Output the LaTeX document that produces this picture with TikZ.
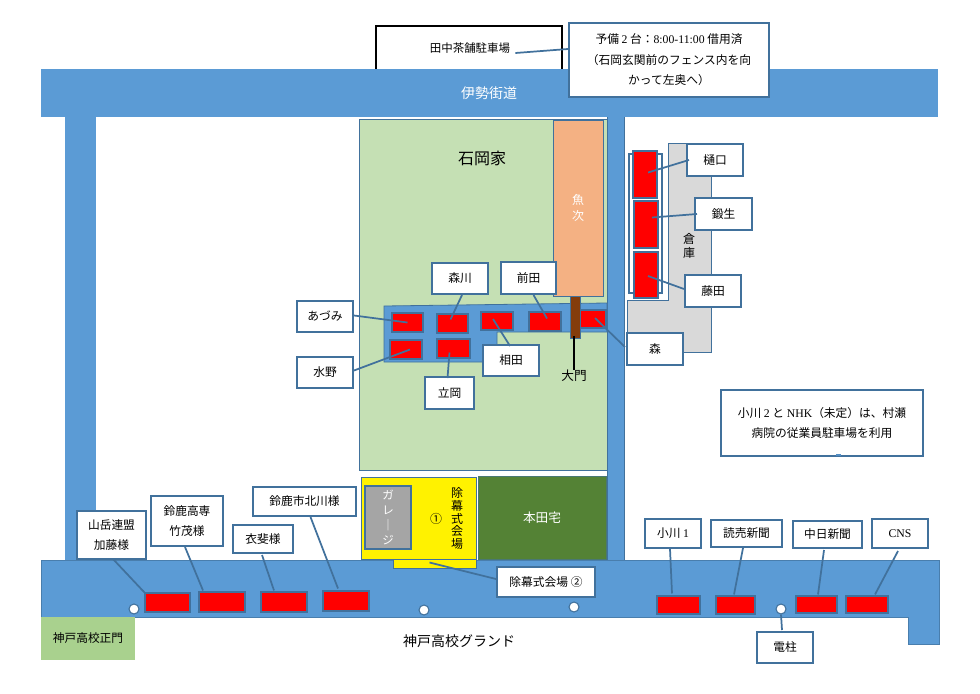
\documentclass[tikz,border=0pt]{standalone}
\usepackage{fontspec}
\setmainfont{Noto Sans CJK JP}
\newfontfamily\ltn{Liberation Serif}
\usetikzlibrary{calc}
\definecolor{road}{HTML}{5B9BD5}
\definecolor{edge}{HTML}{41719C}
\definecolor{house}{HTML}{C5E0B4}
\definecolor{fish}{HTML}{F4B183}
\definecolor{store}{HTML}{D9D9D9}
\definecolor{garage}{HTML}{A5A5A5}
\definecolor{honda}{HTML}{548235}
\definecolor{gate}{HTML}{A9D18E}
\definecolor{door}{HTML}{843C0C}
\newcommand{\fs}[2]{\fontsize{#1}{#2}\selectfont}
\tikzset{
  lab/.style={draw=edge,line width=1.5pt,fill=white,text=black,font=\fs{8.8}{15.4}},
  car/.style={draw=edge,line width=.8pt,fill=red},
  conn/.style={draw=edge,line width=1.3pt},
  roadfill/.style={fill=road,draw=edge!70!road,line width=.5pt},
  pole/.style={circle,draw=edge,line width=.8pt,fill=white,inner sep=0pt,minimum size=7.5pt},
  plain/.style={align=center,inner sep=0pt},
}
\newcommand{\bx}[7][]{%
  \pgfmathsetmacro\bxw{(#5-#3)*.75}\pgfmathsetmacro\bxh{(#6-#4)*.75}%
  \pgfmathsetmacro\bxx{(#5+#3)/2}\pgfmathsetmacro\bxy{(#6+#4)/2}%
  \node[align=center,#1,inner sep=0pt,minimum width=\bxw pt,minimum height=\bxh pt] (#2) at (\bxx,\bxy) {#7};}
\begin{document}
\begin{tikzpicture}[x=.75pt,y=-.75pt]
\useasboundingbox (0,0) rectangle (980,693);
\fill[white] (0,0) rectangle (980,693);
% top car park
\bx[draw=black,line width=1.2pt,fill=white]{tanaka}{376}{26}{562}{80}{}
\node[plain,font=\fs{8.6}{12}] (tanakat) at (470,48) {田中茶舗駐車場};
% roads
\fill[road] (65,110) rectangle (96,565);
\fill[road] (41,69) rectangle (938,117);
\path[roadfill] (41,560) -- (939,560) -- (939,644) -- (908,644) -- (908,617) -- (41,617) -- cycle;
% Ishioka house
\bx[draw=edge,line width=.7pt,fill=house]{ishioka}{359}{119}{607}{470}{}
\fill[road] (607,117) rectangle (624,560);
\draw[edge,line width=.5pt] (607,117) -- (607,560) (624,117) -- (624,560);
\node[plain,font=\fs{12}{14}] (ishiokat) at (482,158) {石岡家};
\bx[draw=edge,line width=.7pt,fill=fish]{uoji}{553}{120}{603}{296}{}
\node[plain,text=white,font=\fs{9}{11.5}] (uojit) at (578,208) {魚\\次};
% warehouse
\path[fill=store,draw=edge,line width=.6pt] (668,143) -- (711,143) -- (711,352) -- (627,352) -- (627,300) -- (668,300) -- cycle;
\node[plain,font=\fs{9}{10}] (soko) at (689,246) {倉\\庫};
\bx[draw=edge,line width=.8pt,fill=white]{slots}{629}{154}{662}{293}{}
\bx[car]{cA}{633}{151}{657}{198}{}
\bx[car]{cB}{634}{201}{658}{248}{}
\bx[car]{cC}{634}{252}{658}{298}{}
% parking strip
\path[fill=road,draw=edge,line width=.6pt] (384,306) -- (607,303) -- (607,332) -- (497,332) -- (497,362) -- (384,362) -- cycle;
\bx[car]{cAzumi}{392}{313}{423}{332}{}
\bx[car]{cMorikawa}{437}{314}{468}{333}{}
\bx[car]{cAida}{481}{312}{513}{330}{}
\bx[car]{cMaeda}{529}{312}{561}{331}{}
\bx[car]{cMori}{580}{310}{606}{328}{}
\bx[car]{cMizuno}{390}{340}{422}{359}{}
\bx[car]{cTachioka}{437}{339}{470}{358}{}
\bx[draw=edge,line width=.6pt,fill=door]{mon}{570}{296}{580}{338}{}
\node[plain,font=\fs{9.5}{12}] (daimon) at (574,376) {大門};
\draw[black,line width=1.2pt] (mon.south) ++(-1,-2) -- (daimon.north) ++(0,-8);
% ceremony area
\bx[draw=edge,line width=.6pt,fill=yellow]{yellowA}{361}{477}{476}{559}{}
\bx[draw=edge,line width=.6pt,fill=yellow]{yellowB}{393}{559}{476}{568}{}
\bx[draw=edge,line width=1.2pt,fill=garage,text=white,font=\fs{8.6}{11.2}]{garagebox}{365}{486}{411}{549}{ガ\\レ\\｜\\ジ}
\node[plain,font=\fs{9}{9.4}] (ceremonyt) at (457,518.5) {除\\幕\\式\\会\\場};
\node[plain,font=\fs{9}{10}] (circleone) at (436,519) {①};
\bx[draw=edge!60!honda,line width=.5pt,fill=honda,text=white,font=\fs{9.5}{12}]{hondabox}{478}{476}{606}{559}{本田宅}
% ceremony label
\bx[lab,font=\fs{8.8}{12}]{ceremonyTwo}{497}{567}{595}{597}{除幕式会場 ②}
% street cars
\bx[car]{cKato}{145}{593}{190}{612}{}
\bx[car]{cTakeshige}{199}{592}{245}{612}{}
\bx[car]{cIbi}{261}{592}{307}{612}{}
\bx[car]{cKitagawa}{323}{591}{369}{611}{}
\bx[car]{cOgawa}{657}{596}{700}{614}{}
\bx[car]{cYomiuri}{716}{596}{755}{614}{}
\bx[car]{cChunichi}{796}{596}{837}{613}{}
\bx[car]{cCNS}{846}{596}{888}{613}{}
\node[pole] (pA) at (134,609) {};
\node[pole] (pB) at (424,610) {};
\node[pole] (pC) at (574,607) {};
\node[pole] (pD) at (781,609) {};
% texts on ground
\node[plain,text=white,font=\fs{10.5}{12}] (isekaido) at (489,93) {伊勢街道};
\node[plain,font=\fs{10.5}{12}] (ground) at (459,641) {神戸高校グランド};
\bx[fill=gate,font=\fs{8.8}{12}]{seimon}{41}{617}{135}{660}{神戸高校正門}
% labels
\bx[lab]{yobi}{569}{23}{769}{97}{予備 {\ltn 2} 台：{\ltn 8:00-11:00} 借用済\\（石岡玄関前のフェンス内を向\\かって左奥へ）}
\bx[lab]{azumi}{297}{301}{353}{332}{あづみ}
\bx[lab]{morikawa}{432}{263}{488}{294}{森川}
\bx[lab]{maeda}{501}{262}{556}{294}{前田}
\bx[lab]{aida}{483}{345}{539}{376}{相田}
\bx[lab]{mizuno}{297}{357}{353}{388}{水野}
\bx[lab]{tachioka}{425}{377}{474}{409}{立岡}
\bx[lab]{mori}{627}{333}{683}{365}{森}
\bx[lab]{higuchi}{687}{144}{743}{176}{樋口}
\bx[lab]{kaji}{695}{198}{752}{230}{鍛生}
\bx[lab]{fujita}{685}{275}{741}{307}{藤田}
\bx[lab]{note}{721}{390}{923}{456}{小川 {\ltn 2} と {\ltn NHK}（未定）は、村瀬\\病院の従業員駐車場を利用}
\bx[lab]{kato}{77}{511}{146}{559}{山岳連盟\\加藤様}
\bx[lab]{takeshige}{151}{496}{223}{546}{鈴鹿高専\\竹茂様}
\bx[lab]{ibi}{233}{525}{293}{553}{衣斐様}
\bx[lab]{kitagawa}{253}{487}{356}{516}{鈴鹿市北川様}
\bx[lab]{ogawa}{645}{519}{701}{548}{小川 {\ltn 1}}
\bx[lab]{yomiuri}{711}{520}{782}{547}{読売新聞}
\bx[lab]{chunichi}{793}{521}{862}{548}{中日新聞}
\bx[lab]{cns}{872}{519}{928}{548}{\ltn CNS}
\bx[lab]{densha}{757}{632}{813}{663}{電柱}
% connectors
\draw[conn] (tanakat.east)++(5,5) -- ($(yobi.west)+(0,-11)$);
\draw[conn] ($(azumi.east)+(0,-1)$) -- (cAzumi.center);
\draw[conn] ($(morikawa.south)+(2,0)$) -- ($(cMorikawa.center)+(-2,-4)$);
\draw[conn] ($(maeda.south)+(5,0)$) -- ($(cMaeda.center)+(2,-3)$);
\draw[conn] ($(aida.north)+(-1,2)$) -- ($(cAida.center)+(-4,-2)$);
\draw[conn] ($(mizuno.east)+(0,-2)$) -- ($(cMizuno.center)+(4,0)$);
\draw[conn] ($(tachioka.north)+(-2,2)$) -- ($(cTachioka.center)+(-4,4)$);
\draw[conn] ($(mori.west)+(-1,-2)$) -- ($(cMori.center)+(2,-1)$);
\draw[conn] ($(higuchi.west)+(3,0)$) -- ($(cA.center)+(3,-2)$);
\draw[conn] ($(kaji.west)+(3,0)$) -- ($(cB.center)+(6,-7)$);
\draw[conn] ($(fujita.west)+(0,-2)$) -- ($(cC.center)+(2,1)$);
\draw[conn] ($(kato.south)+(1.5,-1)$) -- (cKato.north west);
\draw[conn] ($(takeshige.south)+(-2,0)$) -- ($(cTakeshige.north)+(-19,-1)$);
\draw[conn] ($(ibi.south)+(-1,1)$) -- ($(cIbi.north)+(-10,-1)$);
\draw[conn] ($(kitagawa.south)+(6,0)$) -- ($(cKitagawa.north)+(-8,-2)$);
\draw[conn] ($(ceremonyTwo.west)+(0,-3)$) -- ($(yellowB.center)+(-5,-1)$);
\draw[conn] ($(ogawa.south)+(-3,0)$) -- ($(cOgawa.north)+(-6.5,-2)$);
\draw[conn] ($(yomiuri.south)+(-3.5,0)$) -- ($(cYomiuri.north)+(-1.5,-1)$);
\draw[conn] ($(chunichi.south)+(-3.5,1)$) -- ($(cChunichi.north)+(1.5,-1)$);
\draw[conn] ($(cns.south)+(-2,2)$) -- ($(cCNS.north)+(8,-1)$);
\draw[conn] (pD.south) -- ($(densha.north)+(-3,-1)$);
\draw[road!70!edge,line width=1.2pt] (836,455) -- (841,455);
\end{tikzpicture}
\end{document}
